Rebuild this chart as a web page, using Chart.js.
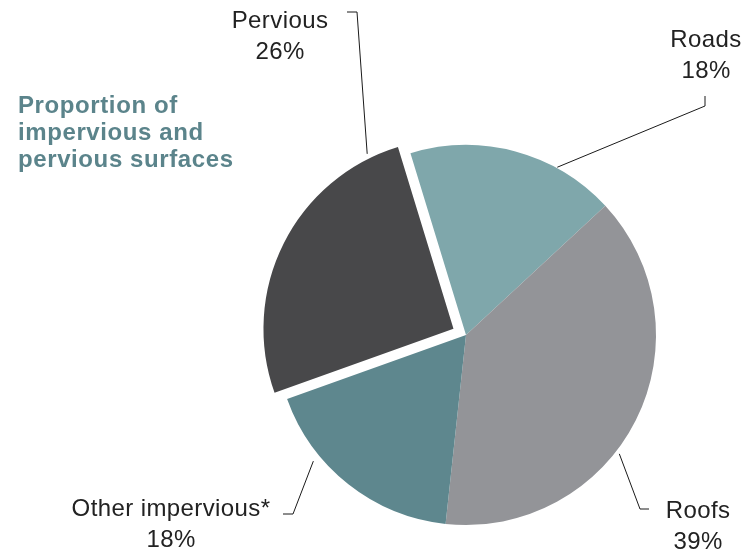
<!DOCTYPE html>
<html>
<head>
<meta charset="utf-8">
<title>Proportion of impervious and pervious surfaces</title>
<script src="https://cdn.jsdelivr.net/npm/chart.js@4/dist/chart.umd.min.js"></script>
<style>
  html, body { margin: 0; padding: 0; background: #ffffff; }
  #surfaces { display: block; }
</style>
</head>
<body>
<canvas id="surfaces" width="749" height="553"></canvas>
<script>
const categories = ["Roads", "Roofs", "Other impervious*", "Pervious"];
const shares = [18, 39, 18, 26];

const sliceColors = ["#7fa7ab", "#939498", "#5e878e", "#48484a"];
const titleLines = ["Proportion of", "impervious and", "pervious surfaces"];

// where each label sits and how its leader line bends (t = position along the slice)
const labelLayout = [
  { x: 706, y: 47, t: 0.71, gap: 1, bend: [[705, 106], [705, 96]] },
  { x: 698, y: 518, t: 0.58, gap: 4, bend: [[640, 509], [649, 509]] },
  { x: 171, y: 516, t: 0.69, gap: 8, bend: [[293, 514], [283, 514]] },
  { x: 280, y: 28, t: 0.9, gap: 5, bend: [[357, 12], [347, 12]] },
];

const calloutPlugin = {
  id: "callouts",
  afterDraw(chart) {
    const ctx = chart.ctx;
    const arcs = chart.getDatasetMeta(0).data;

    ctx.save();
    ctx.strokeStyle = "#1a1a1a";
    ctx.lineWidth = 1;
    arcs.forEach((arc, i) => {
      const lay = labelLayout[i];
      const shift = (arc.options.offset || 0) / 4;
      const mid = (arc.startAngle + arc.endAngle) / 2;
      const cx = arc.x + Math.cos(mid) * shift;
      const cy = arc.y + Math.sin(mid) * shift;
      const a = arc.startAngle + (arc.endAngle - arc.startAngle) * lay.t;
      const r = arc.outerRadius + lay.gap;

      ctx.beginPath();
      ctx.moveTo(cx + Math.cos(a) * r, cy + Math.sin(a) * r);
      lay.bend.forEach((p) => ctx.lineTo(p[0], p[1]));
      ctx.stroke();

      ctx.fillStyle = "#222222";
      ctx.font = "24px 'Liberation Sans', Arial, sans-serif";
      ctx.letterSpacing = "0.4px";
      ctx.textAlign = "center";
      ctx.textBaseline = "alphabetic";
      ctx.fillText(categories[i], lay.x, lay.y);
      ctx.fillText(shares[i] + "%", lay.x, lay.y + 31);
    });

    ctx.fillStyle = "#5b848b";
    ctx.font = "bold 24px 'Liberation Sans', Arial, sans-serif";
    ctx.letterSpacing = "0.6px";
    ctx.textAlign = "left";
    titleLines.forEach((line, i) => {
      ctx.fillText(line, 18, 113 + i * 27);
    });
    ctx.restore();
  },
};

new Chart(document.getElementById("surfaces"), {
  type: "pie",
  data: {
    labels: categories,
    datasets: [
      {
        data: shares,
        backgroundColor: sliceColors,
        borderWidth: 0,
        offset: [0, 0, 0, 56],
        hoverOffset: 0,
      },
    ],
  },
  options: {
    responsive: false,
    animation: false,
    rotation: -17,
    radius: 190,
    layout: {
      padding: { left: 183, top: 117, right: 0, bottom: 0 },
    },
    events: [],
    plugins: {
      legend: { display: false },
      tooltip: { enabled: false },
      title: { display: false },
    },
  },
  plugins: [calloutPlugin],
});
</script>
</body>
</html>
